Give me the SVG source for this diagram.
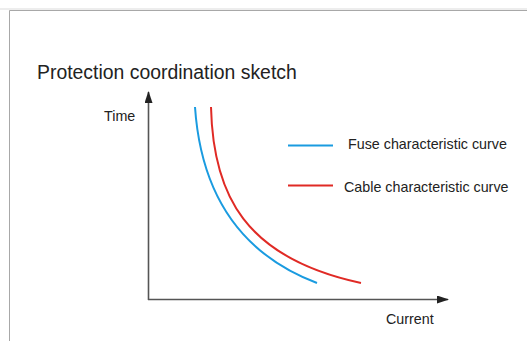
<svg xmlns="http://www.w3.org/2000/svg" width="527" height="341" viewBox="0 0 527 341">
  <style>
    text { font-family: "Liberation Sans", Arial, sans-serif; fill: #222; }
    .label { font-size: 14.3px; }
    .axis { stroke: #555; stroke-width: 1.6; fill: none; }
    .fuse { stroke: #1a9be0; stroke-width: 2; fill: none; }
    .cable { stroke: #e02a25; stroke-width: 2; fill: none; }
    .frame { stroke: #a8a8a8; stroke-width: 1; fill: none; }
  </style>
  <defs>
    <marker id="arrow" viewBox="0 0 12 8" refX="11" refY="4" markerWidth="12" markerHeight="8" markerUnits="userSpaceOnUse" orient="auto">
      <path d="M0,0 L12,4 L0,8 Z" fill="#222"/>
    </marker>
  </defs>
  <rect width="527" height="341" fill="#fff"/>
  <!-- frame -->
  <line class="frame" x1="0" y1="9" x2="527" y2="9" stroke-opacity="0.4"/>
  <path class="frame" d="M9.5,341 V10.5 H527"/>

  <text x="37" y="79" font-size="19.4">Protection coordination sketch</text>

  <g id="axes">
    <line class="axis" x1="148.5" y1="300" x2="148.5" y2="92" marker-end="url(#arrow)"/>
    <line class="axis" x1="148" y1="299.5" x2="448" y2="299.5" marker-end="url(#arrow)"/>
    <text class="label" x="104" y="121">Time</text>
    <text class="label" x="386" y="324">Current</text>
  </g>

  <g id="curves">
    <path id="fuse-curve" class="fuse" d="M195,107 C200,180 230,250 317,283"/>
    <path id="cable-curve" class="cable" d="M211,107 C213,195 245,258 361,283"/>
  </g>

  <g id="legend">
    <line class="fuse" x1="288" y1="145.5" x2="333" y2="145.5"/>
    <text class="label" x="348" y="149">Fuse characteristic curve</text>
    <line class="cable" x1="288" y1="185.5" x2="333" y2="185.5"/>
    <text class="label" x="344" y="192">Cable characteristic curve</text>
  </g>
</svg>
